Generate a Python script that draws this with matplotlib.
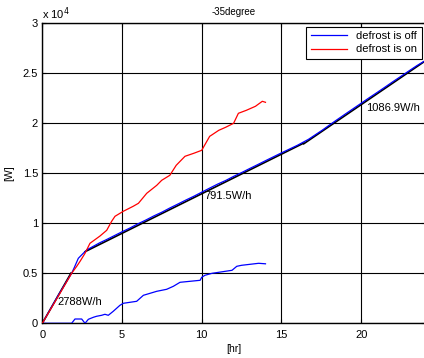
import matplotlib
matplotlib.use("Agg")
import matplotlib.pyplot as plt
import numpy as np

plt.rcParams['font.family'] = ['Liberation Sans', 'DejaVu Sans']

# cumulative energy, defrost off (hours, W)
off_hr = [0, 1.0, 1.84, 2.0, 2.26, 2.57, 2.8, 3.2, 3.6, 4.0, 4.5, 5.0, 5.5, 6.0, 6.5,
          7.0, 7.5, 8.0, 8.5, 9.0, 9.5, 10.0, 10.5, 11.0, 11.5, 12.0, 12.5, 13.0,
          13.5, 14.0, 14.5, 15.0, 15.5, 16.0, 16.7, 17.55, 18.3, 19.0, 19.86,
          20.5, 21.0, 21.5, 22.0, 22.5, 23.0, 23.5, 24.0]
off_w = [0, 2790, 5000, 5550, 6500, 7000, 7350, 7700, 8050, 8350, 8750, 9150,
         9530, 9950, 10330, 10740, 11110, 11530, 11920, 12320, 12700, 13110,
         13520, 13920, 14280, 14690, 15070, 15470, 15860, 16260, 16650, 17040,
         17420, 17800, 18400, 19300, 20150, 20920, 21850, 22550, 23080, 23620,
         24170, 24700, 25240, 25770, 26250]

# cumulative energy, defrost on
on_hr = [0, 1.0, 1.84, 2.16, 2.37, 2.68, 2.99, 3.62, 4.04, 4.35, 4.56, 5.08, 5.7,
         6.03, 6.55, 7.18, 7.49, 8.0, 8.4, 8.95, 9.5, 10.0, 10.5, 10.6, 11.07,
         11.5, 12.0, 12.3, 12.8, 13.37, 13.8, 14.0]
on_w = [0, 2700, 5000, 5700, 6200, 7000, 8000, 8730, 9300, 10200, 10700, 11200,
        11700, 12000, 13000, 13800, 14300, 14800, 15800, 16700, 17000, 17300,
        18700, 18800, 19300, 19600, 20000, 21000, 21300, 21700, 22200, 22100]

# defrost-off share of the defrost-on run
low_hr = [0, 1.84, 2.05, 2.47, 2.68, 2.89, 3.2, 3.4, 3.72, 3.93, 4.14, 4.45, 4.66,
          4.87, 5.08, 5.92, 6.34, 7.18, 7.8, 8.22, 8.64, 9.9, 10.0, 10.2, 10.65,
          11.9, 12.2, 12.5, 13.57, 14.0]
low_w = [0, 0, 430, 430, 0, 400, 600, 700, 800, 900, 800, 1200, 1500, 1800, 2000,
         2200, 2800, 3200, 3400, 3700, 4100, 4300, 4600, 4800, 5000, 5300, 5700,
         5800, 6000, 5950]

# fitted segments: start hour, start value, rate (W/h), end hour
fit_start = [0.0, 2.68, 16.4]
fit_v0 = [0.0, 7160.0, 17950.0]
fit_rate = [2788.0, 791.5, 1086.9]
fit_end = [1.8, 16.4, 24.0]
fit_labels = ['2788W/h', '791.5W/h', '1086.9W/h']
label_pos = [(0.98, 2130), (10.2, 12700), (20.3, 21500)]

fig = plt.figure(figsize=(4.24, 3.58), dpi=100)
ax = fig.add_axes([42.3 / 424, 34.7 / 358, 382.6 / 424, 300 / 358])

for s, v0, r, e in zip(fit_start, fit_v0, fit_rate, fit_end):
    t = np.array([s, e])
    ax.plot(t, v0 + r * (t - s), color='black', lw=1.2, zorder=2)

ax.plot(off_hr, off_w, color='#0000ff', lw=0.9, label='defrost is off', zorder=2.5)
ax.plot(on_hr, on_w, color='#ff0000', lw=0.9, label='defrost is on', zorder=4)
ax.plot(low_hr, low_w, color='#0000ff', lw=0.9, zorder=3)

for txt, (x, y) in zip(fit_labels, label_pos):
    ax.text(x, y, txt, fontsize=8, va='center', ha='left')

ax.set_xlim(0, 24)
ax.set_ylim(0, 30000)
ax.set_xticks([0, 5, 10, 15, 20])
ax.set_yticks([0, 5000, 10000, 15000, 20000, 25000, 30000])
ax.set_yticklabels(['0', '0.5', '1', '1.5', '2', '2.5', '3'])
ax.tick_params(direction='in', length=3, labelsize=8, width=0.8,
               top=True, right=True)
ax.tick_params(axis='x', pad=5)
ax.tick_params(axis='y', pad=3)
ax.grid(True, color='black', lw=0.8, ls='-')
for sp in ax.spines.values():
    sp.set_linewidth(1.0)

ax.set_title('-35degree', fontsize=7, pad=6)
ax.set_xlabel('[hr]', fontsize=7.5, labelpad=3)
ax.set_ylabel('[W]', fontsize=7.5, labelpad=6)
fig.text(42 / 424, 1 - 14 / 358, r'x 10$^4$', fontsize=8, va='center', ha='left')

leg = ax.legend(loc='upper right', fontsize=8, fancybox=False, framealpha=1,
                edgecolor='black', borderaxespad=0.3, handlelength=3.3,
                borderpad=0.4, labelspacing=0.3)
leg.get_frame().set_linewidth(0.8)

fig.savefig('out.png', dpi=100)
